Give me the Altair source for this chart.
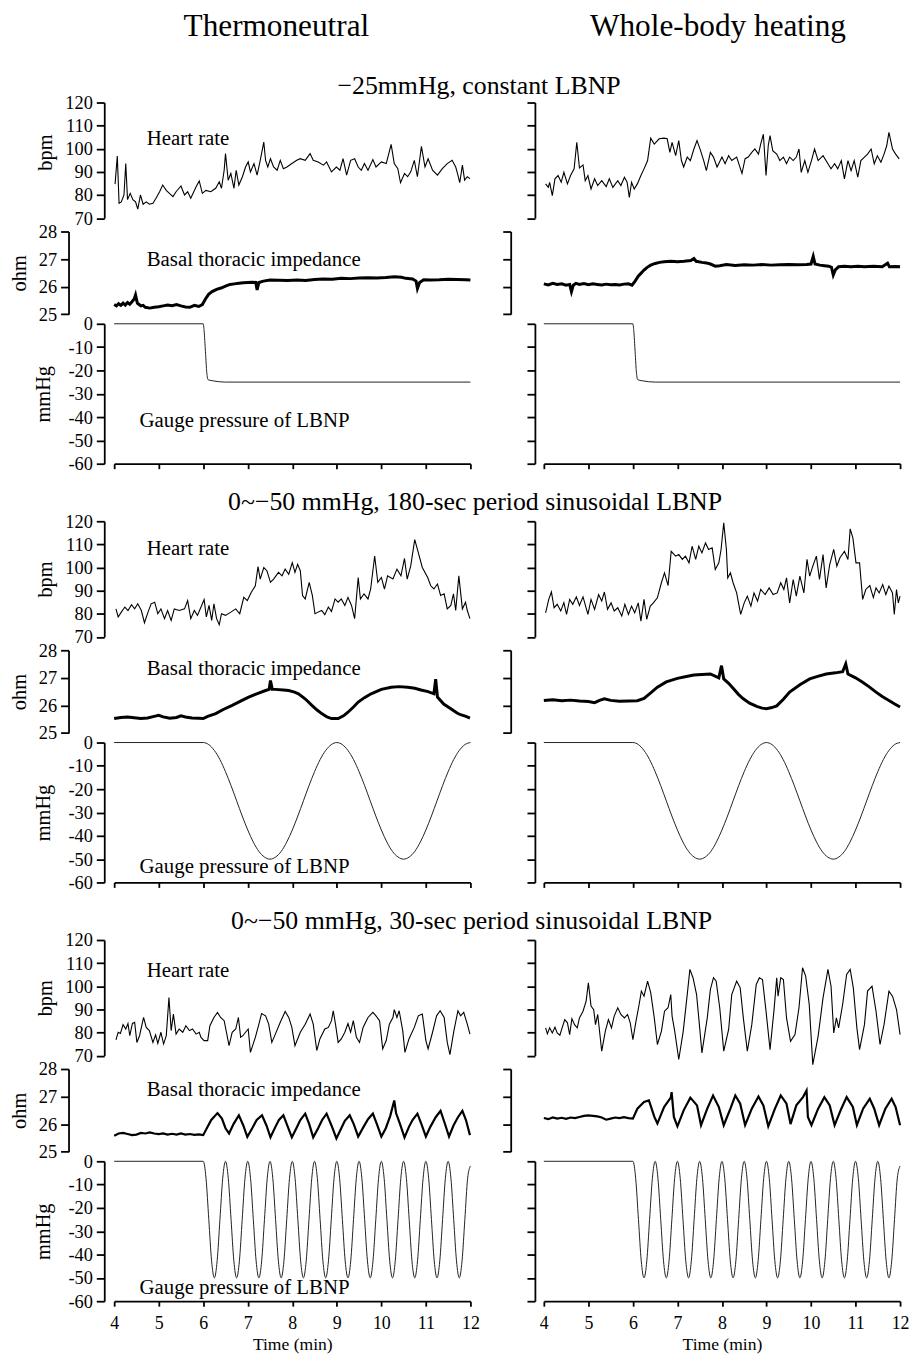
import altair as alt
import pandas as pd

FONT = "Liberation Serif"

COLUMN_TITLES = ["Thermoneutral", "Whole-body heating"]
SECTION_TITLES = ["\u221225mmHg, constant LBNP",
                  "0~\u221250 mmHg, 180-sec period sinusoidal LBNP",
                  "0~\u221250 mmHg, 30-sec period sinusoidal LBNP"]
X_TICKS = [4, 5, 6, 7, 8, 9, 10, 11, 12]
HR_TICKS = [70, 80, 90, 100, 110, 120]
OHM_TICKS = [25, 26, 27, 28]
P_TICKS = [-60, -50, -40, -30, -20, -10, 0]
PANEL_LABELS = ["Heart rate", "Basal thoracic impedance", "Gauge pressure of LBNP"]
HR_LABEL_AT = [(4.73, 104.2), (4.73, 107.9), (4.73, 106.6)]
OHM_LABEL_AT = [(4.73, 26.95), (4.73, 27.3), (4.73, 27.25)]
P_LABEL_AT = [(4.57, -41.9), (4.57, -53.2), (4.57, -54.3)]

# ---------------- heart rate (min, bpm) ----------------
HR_TN_CONST = [(4.02, 84.7), (4.07, 96.9), (4.11, 76.4), (4.16, 77.0), (4.22, 80.0), (4.26, 93.6), (4.30, 78.0),
               (4.36, 80.7), (4.42, 78.0), (4.48, 77.0), (4.53, 73.9), (4.59, 80.0), (4.65, 76.0), (4.72, 77.0),
               (4.79, 76.0), (4.87, 76.4), (4.94, 78.6), (5.02, 81.4), (5.09, 84.3), (5.17, 82.0), (5.24, 80.7),
               (5.32, 79.3), (5.39, 81.4), (5.50, 83.9), (5.58, 80.0), (5.65, 81.4), (5.72, 78.6), (5.84, 83.6),
               (5.91, 86.1), (5.98, 80.7), (6.06, 82.0), (6.17, 81.4), (6.28, 82.9), (6.36, 85.7), (6.41, 82.9),
               (6.47, 90.7), (6.50, 97.9), (6.56, 86.4), (6.62, 89.3), (6.69, 82.9), (6.74, 90.7), (6.80, 84.3),
               (6.88, 87.9), (6.95, 92.1), (7.01, 94.3), (7.06, 90.0), (7.14, 93.6), (7.21, 88.6), (7.28, 95.0),
               (7.36, 102.9), (7.40, 95.0), (7.45, 92.1), (7.51, 95.7), (7.58, 92.1), (7.66, 90.7), (7.73, 95.0),
               (7.80, 91.4), (7.88, 92.1), (7.99, 93.6), (8.10, 95.0), (8.18, 95.7), (8.29, 95.0), (8.40, 97.9),
               (8.47, 95.0), (8.58, 94.3), (8.70, 92.9), (8.77, 94.3), (8.88, 90.0), (8.99, 92.1), (9.07, 90.7),
               (9.14, 95.7), (9.22, 88.6), (9.31, 95.0), (9.40, 95.7), (9.48, 92.1), (9.55, 90.7), (9.62, 93.6),
               (9.70, 90.7), (9.81, 95.3), (9.88, 92.1), (10.00, 94.3), (10.11, 93.6), (10.22, 101.9), (10.29, 93.6),
               (10.37, 91.4), (10.43, 85.3), (10.52, 89.3), (10.59, 87.9), (10.66, 90.0), (10.74, 95.0), (10.81, 87.9),
               (10.90, 101.0), (10.98, 92.1), (11.05, 95.7), (11.15, 90.7), (11.26, 88.6), (11.37, 91.4), (11.48, 93.6),
               (11.59, 95.0), (11.67, 92.1), (11.72, 88.6), (11.76, 85.3), (11.82, 92.9), (11.87, 86.4), (11.93, 87.9),
               (11.99, 87.1)]
HR_HEAT_CONST = [(4.04, 84.8), (4.10, 83.3), (4.13, 85.5), (4.19, 79.7), (4.25, 87.0), (4.32, 88.4), (4.39, 85.5),
                 (4.45, 89.8), (4.53, 84.8), (4.60, 88.4), (4.68, 91.3), (4.74, 102.8), (4.80, 91.7), (4.88, 93.0),
                 (4.93, 86.2), (4.99, 88.4), (5.06, 82.6), (5.14, 87.0), (5.21, 84.1), (5.30, 86.2), (5.40, 83.6),
                 (5.47, 87.0), (5.55, 83.3), (5.66, 86.2), (5.73, 84.1), (5.81, 87.7), (5.87, 85.5), (5.92, 79.0),
                 (5.97, 85.5), (6.03, 82.6), (6.10, 84.8), (6.18, 88.4), (6.25, 91.3), (6.33, 94.9), (6.40, 104.6),
                 (6.48, 102.0), (6.59, 104.3), (6.70, 104.6), (6.77, 104.3), (6.83, 98.4), (6.88, 102.8), (6.96, 97.0),
                 (7.03, 103.5), (7.09, 94.9), (7.14, 92.1), (7.22, 96.4), (7.29, 94.9), (7.37, 99.9), (7.44, 103.5),
                 (7.52, 99.2), (7.59, 94.9), (7.65, 90.5), (7.74, 98.4), (7.81, 96.4), (7.89, 92.1), (8.00, 96.4),
                 (8.07, 93.5), (8.15, 97.0), (8.22, 94.9), (8.33, 96.4), (8.45, 89.3), (8.52, 95.7), (8.59, 96.4),
                 (8.67, 98.4), (8.74, 99.9), (8.82, 97.7), (8.87, 102.0), (8.93, 106.3), (8.99, 88.4), (9.04, 101.4),
                 (9.08, 105.7), (9.14, 99.2), (9.23, 97.7), (9.30, 94.9), (9.38, 96.4), (9.45, 93.5), (9.52, 96.4),
                 (9.60, 94.9), (9.67, 96.4), (9.73, 99.9), (9.78, 89.8), (9.86, 94.9), (9.93, 89.8), (10.01, 94.9),
                 (10.08, 99.9), (10.16, 94.9), (10.27, 97.0), (10.38, 93.5), (10.45, 91.3), (10.53, 93.5), (10.60, 91.3),
                 (10.68, 94.9), (10.75, 87.0), (10.83, 94.9), (10.90, 90.5), (10.97, 94.9), (11.05, 87.7), (11.12, 94.9),
                 (11.20, 96.4), (11.27, 97.7), (11.35, 99.9), (11.42, 93.5), (11.49, 97.0), (11.57, 94.2), (11.64, 97.7),
                 (11.70, 101.3), (11.75, 107.1), (11.83, 99.9), (11.90, 97.7), (11.98, 95.6)]
HR_TN_180 = [(4.04, 82.1), (4.09, 78.6), (4.16, 80.7), (4.24, 82.9), (4.31, 81.4), (4.39, 83.9), (4.46, 82.1),
             (4.53, 84.3), (4.61, 81.4), (4.68, 76.1), (4.76, 80.7), (4.83, 84.3), (4.91, 85.0), (4.98, 80.0),
             (5.05, 82.1), (5.13, 77.9), (5.20, 81.4), (5.28, 77.1), (5.35, 82.1), (5.46, 81.4), (5.58, 82.1),
             (5.65, 85.7), (5.72, 77.9), (5.80, 81.4), (5.87, 79.3), (5.95, 82.9), (6.02, 86.1), (6.07, 78.6),
             (6.13, 83.6), (6.19, 77.1), (6.24, 84.3), (6.30, 77.9), (6.36, 75.3), (6.41, 80.0), (6.50, 79.3),
             (6.62, 80.7), (6.73, 82.1), (6.82, 80.0), (6.91, 87.1), (6.99, 85.7), (7.08, 89.3), (7.17, 92.1),
             (7.23, 100.4), (7.28, 95.0), (7.36, 100.0), (7.43, 98.6), (7.51, 93.6), (7.58, 95.0), (7.69, 97.9),
             (7.77, 96.4), (7.84, 99.3), (7.92, 97.1), (8.00, 102.1), (8.06, 97.9), (8.12, 101.4), (8.18, 98.6),
             (8.23, 87.9), (8.29, 86.4), (8.38, 93.6), (8.45, 87.9), (8.51, 80.0), (8.58, 80.7), (8.66, 81.4),
             (8.73, 79.6), (8.81, 82.9), (8.88, 81.0), (8.96, 86.4), (9.03, 85.0), (9.10, 86.4), (9.18, 83.6),
             (9.25, 87.1), (9.33, 83.6), (9.40, 77.9), (9.48, 95.7), (9.53, 86.4), (9.61, 88.6), (9.70, 86.4),
             (9.76, 90.7), (9.85, 105.0), (9.92, 93.6), (10.00, 95.7), (10.07, 90.7), (10.14, 96.4), (10.26, 95.0),
             (10.35, 99.3), (10.44, 96.4), (10.52, 103.9), (10.58, 95.0), (10.66, 100.7), (10.75, 112.1),
             (10.83, 106.4), (10.92, 100.0), (11.04, 95.7), (11.11, 92.1), (11.18, 90.7), (11.26, 92.9),
             (11.33, 87.9), (11.41, 88.6), (11.48, 82.1), (11.56, 83.6), (11.62, 88.6), (11.67, 81.4), (11.74, 96.4),
             (11.82, 82.1), (11.89, 85.0), (11.93, 81.4), (11.99, 77.9)]
HR_HEAT_180 = [(4.04, 80.4), (4.11, 86.2), (4.17, 89.4), (4.23, 82.6), (4.30, 84.1), (4.38, 81.2), (4.45, 84.8),
               (4.51, 79.7), (4.58, 86.2), (4.65, 84.1), (4.73, 87.3), (4.80, 83.6), (4.88, 87.3), (4.99, 79.7),
               (5.06, 86.2), (5.14, 81.9), (5.23, 88.3), (5.30, 85.5), (5.36, 89.4), (5.43, 81.9), (5.51, 84.7),
               (5.58, 81.2), (5.66, 82.6), (5.75, 79.0), (5.82, 84.1), (5.90, 79.7), (5.97, 83.3), (6.04, 80.4),
               (6.12, 84.7), (6.18, 76.8), (6.25, 86.2), (6.31, 77.6), (6.39, 83.3), (6.46, 84.7), (6.55, 86.9),
               (6.64, 93.4), (6.71, 97.7), (6.79, 92.2), (6.86, 107.0), (6.96, 104.9), (7.03, 105.6), (7.11, 103.5),
               (7.18, 104.9), (7.26, 102.0), (7.33, 109.2), (7.41, 103.5), (7.48, 109.2), (7.55, 106.3), (7.63, 110.6),
               (7.70, 107.8), (7.78, 108.5), (7.85, 99.1), (7.93, 102.0), (7.98, 107.8), (8.04, 119.3), (8.10, 107.8),
               (8.13, 95.5), (8.19, 97.7), (8.25, 93.4), (8.33, 89.0), (8.42, 79.7), (8.50, 84.7), (8.57, 87.6),
               (8.65, 83.3), (8.72, 89.0), (8.80, 85.5), (8.87, 90.5), (8.97, 88.3), (9.06, 91.2), (9.15, 88.3),
               (9.24, 89.0), (9.32, 93.4), (9.39, 90.5), (9.45, 95.5), (9.52, 84.7), (9.60, 94.8), (9.67, 87.6),
               (9.75, 96.3), (9.84, 89.0), (9.91, 103.5), (9.97, 96.3), (10.04, 100.6), (10.12, 104.9), (10.19, 94.8),
               (10.27, 105.6), (10.34, 91.2), (10.42, 101.3), (10.51, 107.8), (10.58, 100.6), (10.65, 104.2),
               (10.75, 107.0), (10.83, 103.5), (10.88, 116.7), (10.94, 112.8), (11.01, 102.0), (11.09, 102.0),
               (11.16, 86.2), (11.23, 90.5), (11.32, 92.2), (11.40, 87.0), (11.46, 91.2), (11.53, 89.0), (11.61, 92.6),
               (11.68, 88.3), (11.75, 92.0), (11.83, 89.0), (11.87, 79.7), (11.92, 90.5), (11.96, 84.7), (12.00, 87.6)]
HR_TN_30 = [(4.04, 76.8), (4.09, 80.1), (4.14, 79.6), (4.20, 83.4), (4.26, 81.5), (4.31, 83.9), (4.35, 78.6),
            (4.41, 83.9), (4.46, 84.4), (4.51, 75.7), (4.57, 78.6), (4.66, 86.5), (4.72, 82.2), (4.79, 80.8),
            (4.87, 75.7), (4.93, 79.0), (4.98, 75.3), (5.05, 80.1), (5.11, 75.0), (5.17, 78.6), (5.23, 95.1),
            (5.28, 80.8), (5.33, 88.0), (5.39, 79.3), (5.46, 81.5), (5.54, 80.1), (5.61, 82.9), (5.69, 80.8),
            (5.76, 81.5), (5.84, 79.3), (5.91, 80.1), (5.95, 77.9), (6.02, 76.5), (6.10, 76.5), (6.15, 82.9),
            (6.24, 86.5), (6.32, 88.7), (6.39, 86.5), (6.47, 85.1), (6.58, 74.3), (6.65, 80.1), (6.73, 81.5),
            (6.79, 86.5), (6.84, 77.9), (6.89, 78.6), (6.95, 80.1), (7.01, 81.5), (7.06, 71.4), (7.17, 77.9),
            (7.25, 83.6), (7.31, 88.2), (7.40, 87.2), (7.47, 83.6), (7.54, 75.7), (7.62, 79.3), (7.73, 84.4),
            (7.84, 89.1), (7.92, 86.5), (7.99, 82.2), (8.06, 74.3), (8.18, 80.1), (8.29, 83.6), (8.40, 88.0),
            (8.47, 83.6), (8.55, 72.2), (8.62, 77.2), (8.73, 81.5), (8.81, 82.2), (8.88, 85.1), (8.92, 89.4),
            (8.97, 83.6), (9.03, 75.7), (9.10, 77.2), (9.18, 80.1), (9.25, 83.9), (9.31, 80.1), (9.37, 85.1),
            (9.44, 77.9), (9.51, 75.7), (9.59, 82.2), (9.70, 86.5), (9.81, 88.7), (9.88, 87.2), (9.96, 85.1),
            (10.03, 72.9), (10.11, 76.5), (10.18, 83.6), (10.26, 86.5), (10.29, 89.9), (10.35, 86.5), (10.40, 89.4),
            (10.48, 80.8), (10.53, 71.4), (10.62, 77.2), (10.74, 82.2), (10.83, 87.2), (10.92, 88.0), (11.00, 76.5),
            (11.05, 72.9), (11.15, 80.1), (11.24, 87.2), (11.32, 89.4), (11.41, 86.5), (11.48, 75.7), (11.54, 70.4),
            (11.63, 80.8), (11.72, 89.4), (11.78, 87.2), (11.85, 88.7), (11.93, 83.6), (11.99, 79.3)]
HR_HEAT_30 = [(4.04, 82.0), (4.08, 79.4), (4.13, 82.0), (4.19, 79.8), (4.25, 82.3), (4.30, 79.8), (4.36, 78.8),
              (4.41, 82.0), (4.47, 85.6), (4.53, 84.2), (4.58, 79.1), (4.63, 86.0), (4.69, 83.4), (4.75, 82.0),
              (4.80, 86.3), (4.88, 89.2), (4.95, 93.6), (5.00, 101.5), (5.06, 91.4), (5.12, 89.9), (5.16, 83.4),
              (5.21, 87.8), (5.30, 71.9), (5.38, 80.5), (5.45, 85.6), (5.52, 82.0), (5.58, 87.1), (5.66, 90.7),
              (5.73, 87.8), (5.81, 86.3), (5.88, 87.8), (5.94, 84.2), (6.00, 76.9), (6.07, 84.9), (6.14, 92.1),
              (6.19, 97.9), (6.25, 95.7), (6.33, 102.2), (6.40, 97.2), (6.48, 86.3), (6.55, 74.8), (6.64, 80.5),
              (6.71, 89.2), (6.79, 90.7), (6.85, 96.4), (6.88, 87.1), (6.94, 80.5), (7.03, 68.3), (7.13, 80.5),
              (7.22, 96.4), (7.28, 107.3), (7.35, 103.7), (7.43, 96.4), (7.50, 82.0), (7.55, 71.2), (7.67, 86.3),
              (7.74, 98.6), (7.81, 103.7), (7.87, 102.2), (7.95, 90.7), (8.04, 71.9), (8.15, 81.3), (8.22, 96.4),
              (8.33, 102.2), (8.41, 99.3), (8.48, 86.3), (8.57, 71.9), (8.67, 83.4), (8.77, 100.8), (8.84, 103.7),
              (8.91, 102.9), (8.99, 89.2), (9.08, 72.6), (9.17, 89.9), (9.23, 103.7), (9.26, 95.7), (9.32, 103.7),
              (9.38, 102.9), (9.45, 86.3), (9.54, 76.2), (9.64, 79.1), (9.73, 90.7), (9.81, 108.0), (9.88, 104.4),
              (9.96, 92.1), (10.04, 66.1), (10.16, 78.4), (10.27, 95.0), (10.38, 107.3), (10.45, 100.0), (10.51, 79.8),
              (10.57, 86.3), (10.62, 82.0), (10.71, 92.1), (10.80, 105.1), (10.88, 107.3), (10.95, 99.3), (11.03, 82.0),
              (11.09, 72.6), (11.20, 83.4), (11.27, 97.9), (11.37, 100.0), (11.46, 89.2), (11.55, 74.8), (11.64, 83.4),
              (11.75, 97.9), (11.83, 95.7), (11.92, 89.9), (12.00, 79.1)]

# ---------------- basal thoracic impedance (min, ohm) ----------------
OHM_TN_CONST = [(4.00, 25.35), (4.05, 25.30), (4.10, 25.38), (4.15, 25.32), (4.20, 25.40), (4.25, 25.33), (4.30, 25.42),
                (4.35, 25.36), (4.40, 25.45), (4.45, 25.55), (4.48, 25.70), (4.52, 25.40), (4.56, 25.35), (4.60, 25.30),
                (4.65, 25.32), (4.70, 25.25), (4.80, 25.22), (4.90, 25.25), (5.00, 25.27), (5.10, 25.30), (5.20, 25.33),
                (5.30, 25.31), (5.40, 25.35), (5.50, 25.30), (5.60, 25.26), (5.70, 25.25), (5.80, 25.32), (5.90, 25.28),
                (5.98, 25.35), (6.05, 25.55), (6.12, 25.72), (6.20, 25.82), (6.30, 25.90), (6.40, 25.95), (6.50, 26.02),
                (6.60, 26.08), (6.70, 26.10), (6.80, 26.12), (6.90, 26.14), (7.00, 26.15), (7.10, 26.16), (7.18, 26.15),
                (7.21, 25.88), (7.25, 26.15), (7.35, 26.20), (7.50, 26.24), (7.70, 26.23), (7.90, 26.22), (8.10, 26.24),
                (8.30, 26.22), (8.50, 26.26), (8.70, 26.28), (8.90, 26.27), (9.10, 26.30), (9.30, 26.29), (9.50, 26.31),
                (9.70, 26.32), (9.90, 26.31), (10.10, 26.33), (10.30, 26.36), (10.45, 26.34), (10.55, 26.30),
                (10.70, 26.28), (10.78, 26.20), (10.81, 25.93), (10.86, 26.15), (10.95, 26.25), (11.10, 26.24),
                (11.30, 26.25), (11.50, 26.27), (11.70, 26.26), (11.90, 26.25), (12.00, 26.24)]
OHM_HEAT_CONST = [(4.00, 26.10), (4.10, 26.06), (4.20, 26.12), (4.30, 26.08), (4.40, 26.10), (4.50, 26.05), (4.58, 26.08),
                  (4.62, 25.82), (4.66, 26.05), (4.72, 26.12), (4.80, 26.08), (4.90, 26.11), (5.00, 26.07), (5.10, 26.10),
                  (5.20, 26.08), (5.30, 26.06), (5.40, 26.09), (5.50, 26.07), (5.60, 26.08), (5.70, 26.06), (5.80, 26.09),
                  (5.90, 26.10), (5.98, 26.05), (6.05, 26.20), (6.12, 26.38), (6.18, 26.48), (6.25, 26.60), (6.32, 26.70),
                  (6.40, 26.78), (6.50, 26.84), (6.60, 26.88), (6.70, 26.90), (6.85, 26.92), (7.00, 26.90), (7.15, 26.92),
                  (7.30, 26.95), (7.37, 27.02), (7.42, 26.92), (7.55, 26.88), (7.65, 26.86), (7.74, 26.82), (7.85, 26.74),
                  (7.95, 26.76), (8.10, 26.80), (8.30, 26.77), (8.50, 26.79), (8.70, 26.78), (8.90, 26.80), (9.10, 26.78),
                  (9.30, 26.79), (9.50, 26.80), (9.70, 26.79), (9.90, 26.80), (10.00, 26.82), (10.05, 27.10),
                  (10.09, 26.82), (10.20, 26.78), (10.30, 26.76), (10.40, 26.74), (10.46, 26.70), (10.50, 26.42),
                  (10.55, 26.62), (10.62, 26.72), (10.75, 26.74), (10.90, 26.72), (11.05, 26.74), (11.20, 26.72),
                  (11.40, 26.74), (11.60, 26.72), (11.72, 26.85), (11.76, 26.72), (11.90, 26.73), (12.00, 26.72)]
OHM_TN_180 = [(4.00, 25.52), (4.15, 25.56), (4.30, 25.58), (4.45, 25.55), (4.60, 25.52), (4.75, 25.54), (4.90, 25.60),
              (5.00, 25.64), (5.10, 25.58), (5.25, 25.53), (5.40, 25.56), (5.50, 25.62), (5.60, 25.58), (5.75, 25.54),
              (5.90, 25.53), (6.00, 25.52), (6.10, 25.60), (6.28, 25.70), (6.45, 25.85), (6.65, 26.00), (6.85, 26.16),
              (7.02, 26.30), (7.20, 26.42), (7.40, 26.54), (7.48, 26.58), (7.51, 26.90), (7.55, 26.58), (7.62, 26.58),
              (7.80, 26.56), (7.92, 26.54), (8.05, 26.48), (8.14, 26.42), (8.30, 26.22), (8.44, 26.00), (8.55, 25.84),
              (8.66, 25.70), (8.78, 25.58), (8.88, 25.52), (9.03, 25.52), (9.15, 25.62), (9.25, 25.75), (9.38, 25.95),
              (9.48, 26.12), (9.62, 26.28), (9.77, 26.42), (10.00, 26.58), (10.22, 26.66), (10.40, 26.68),
              (10.59, 26.66), (10.75, 26.62), (10.89, 26.56), (11.05, 26.50), (11.18, 26.42), (11.22, 26.95),
              (11.26, 26.30), (11.40, 26.05), (11.56, 25.88), (11.70, 25.72), (11.78, 25.66), (11.90, 25.60),
              (11.99, 25.54)]
OHM_HEAT_180 = [(4.00, 26.18), (4.20, 26.20), (4.40, 26.17), (4.60, 26.19), (4.80, 26.16), (5.00, 26.14), (5.14, 26.10),
                (5.25, 26.18), (5.36, 26.24), (5.50, 26.18), (5.70, 26.15), (5.90, 26.16), (6.10, 26.17), (6.25, 26.25),
                (6.40, 26.45), (6.55, 26.66), (6.75, 26.85), (7.00, 26.98), (7.20, 27.05), (7.37, 27.10), (7.55, 27.12),
                (7.74, 27.14), (7.93, 27.00), (7.99, 27.44), (8.04, 26.96), (8.15, 26.80), (8.26, 26.60), (8.37, 26.40),
                (8.48, 26.24), (8.62, 26.08), (8.78, 25.96), (8.90, 25.90), (9.00, 25.88), (9.12, 25.92), (9.23, 25.98),
                (9.38, 26.22), (9.52, 26.48), (9.75, 26.75), (9.97, 26.96), (10.15, 27.05), (10.34, 27.14),
                (10.55, 27.18), (10.71, 27.22), (10.78, 27.50), (10.83, 27.14), (11.00, 27.00), (11.16, 26.84),
                (11.30, 26.68), (11.46, 26.48), (11.60, 26.32), (11.75, 26.18), (11.88, 26.05), (12.00, 25.94)]
OHM_TN_30 = [(4.00, 25.58), (4.10, 25.66), (4.20, 25.68), (4.30, 25.64), (4.40, 25.60), (4.50, 25.62), (4.60, 25.68),
             (4.70, 25.66), (4.80, 25.70), (4.90, 25.66), (5.00, 25.64), (5.10, 25.66), (5.20, 25.62), (5.30, 25.65),
             (5.40, 25.62), (5.50, 25.66), (5.60, 25.62), (5.70, 25.64), (5.80, 25.61), (5.90, 25.63), (6.00, 25.60),
             (6.08, 25.85), (6.18, 26.15), (6.32, 26.40), (6.42, 26.20), (6.50, 25.85), (6.58, 25.66), (6.68, 26.00),
             (6.80, 26.32), (6.90, 25.95), (6.99, 25.54), (7.10, 25.85), (7.20, 26.15), (7.32, 26.32), (7.42, 25.95),
             (7.51, 25.52), (7.62, 25.90), (7.70, 26.15), (7.80, 26.32), (7.90, 25.90), (7.99, 25.52), (8.10, 25.88),
             (8.18, 26.15), (8.29, 26.38), (8.38, 26.00), (8.47, 25.52), (8.58, 25.85), (8.67, 26.15), (8.77, 26.38),
             (8.88, 25.95), (8.99, 25.48), (9.10, 25.85), (9.18, 26.12), (9.29, 26.32), (9.38, 26.00), (9.48, 25.55),
             (9.60, 25.90), (9.70, 26.18), (9.81, 26.38), (9.90, 26.00), (10.00, 25.55), (10.10, 25.85),
             (10.20, 26.30), (10.29, 26.86), (10.33, 26.40), (10.42, 26.00), (10.52, 25.52), (10.62, 25.90),
             (10.70, 26.15), (10.81, 26.38), (10.90, 26.00), (11.00, 25.55), (11.10, 25.90), (11.22, 26.25),
             (11.33, 26.48), (11.42, 26.05), (11.52, 25.55), (11.62, 25.95), (11.72, 26.25), (11.82, 26.48),
             (11.90, 26.15), (11.99, 25.60)]
OHM_HEAT_30 = [(4.00, 26.22), (4.10, 26.18), (4.20, 26.24), (4.30, 26.20), (4.40, 26.23), (4.50, 26.19), (4.60, 26.24),
               (4.70, 26.22), (4.80, 26.26), (4.90, 26.30), (5.00, 26.32), (5.10, 26.30), (5.20, 26.28), (5.30, 26.24),
               (5.40, 26.16), (5.50, 26.20), (5.60, 26.24), (5.70, 26.22), (5.80, 26.25), (5.90, 26.22), (6.00, 26.20),
               (6.10, 26.56), (6.25, 26.80), (6.36, 26.86), (6.48, 26.27), (6.55, 26.02), (6.70, 26.62), (6.85, 26.96),
               (6.87, 27.16), (6.92, 26.26), (7.00, 25.92), (7.14, 26.50), (7.29, 26.96), (7.44, 26.68), (7.53, 25.96),
               (7.67, 26.56), (7.80, 27.04), (7.93, 26.62), (8.04, 25.96), (8.19, 26.56), (8.30, 27.04), (8.41, 26.74),
               (8.52, 25.96), (8.67, 26.56), (8.82, 27.00), (8.93, 26.68), (9.04, 25.92), (9.19, 26.56), (9.32, 27.04),
               (9.45, 26.74), (9.54, 26.00), (9.67, 26.68), (9.82, 26.98), (9.90, 27.22), (9.93, 26.26), (10.01, 25.96),
               (10.16, 26.56), (10.30, 26.98), (10.42, 26.68), (10.53, 25.96), (10.68, 26.56), (10.80, 26.98),
               (10.94, 26.62), (11.03, 25.96), (11.17, 26.56), (11.32, 26.92), (11.42, 26.56), (11.53, 25.96),
               (11.67, 26.56), (11.81, 26.92), (11.90, 26.62), (12.00, 25.96)]

# ---------------- LBNP gauge pressure (min, mmHg) ----------------
P_CONST = [(4.0, 0), (6.0, 0), (6.02, -3), (6.05, -12), (6.08, -21), (6.11, -24), (6.2, -24.4), (6.5, -25), (12.0, -25)]
P180_T = [4.0, 6.0, 6.125, 6.25, 6.375, 6.5, 6.625, 6.75, 6.875, 7.0, 7.125, 7.25, 7.375, 7.5, 7.625, 7.75, 7.875,
          8.0, 8.125, 8.25, 8.375, 8.5, 8.625, 8.75, 8.875, 9.0, 9.125, 9.25, 9.375, 9.5, 9.625, 9.75, 9.875,
          10.0, 10.125, 10.25, 10.375, 10.5, 10.625, 10.75, 10.875, 11.0, 11.125, 11.25, 11.375, 11.5, 11.625,
          11.75, 11.875, 12.0]
P180_V = [0, 0, -0.9, -3.4, -7.3, -12.5, -18.5, -25, -31.5, -37.5, -42.7, -46.7, -49.1, -50, -49.1, -46.7, -42.7,
          -37.5, -31.5, -25, -18.5, -12.5, -7.3, -3.4, -0.9, 0, -0.9, -3.4, -7.3, -12.5, -18.5, -25, -31.5,
          -37.5, -42.7, -46.7, -49.1, -50, -49.1, -46.7, -42.7, -37.5, -31.5, -25, -18.5, -12.5, -7.3,
          -3.4, -0.9, 0]
P30_T = [4.0,
         6.0, 6.0625, 6.125, 6.1875, 6.25, 6.3125, 6.375, 6.4375,
         6.5, 6.5625, 6.625, 6.6875, 6.75, 6.8125, 6.875, 6.9375,
         7.0, 7.0625, 7.125, 7.1875, 7.25, 7.3125, 7.375, 7.4375,
         7.5, 7.5625, 7.625, 7.6875, 7.75, 7.8125, 7.875, 7.9375,
         8.0, 8.0625, 8.125, 8.1875, 8.25, 8.3125, 8.375, 8.4375,
         8.5, 8.5625, 8.625, 8.6875, 8.75, 8.8125, 8.875, 8.9375,
         9.0, 9.0625, 9.125, 9.1875, 9.25, 9.3125, 9.375, 9.4375,
         9.5, 9.5625, 9.625, 9.6875, 9.75, 9.8125, 9.875, 9.9375,
         10.0, 10.0625, 10.125, 10.1875, 10.25, 10.3125, 10.375, 10.4375,
         10.5, 10.5625, 10.625, 10.6875, 10.75, 10.8125, 10.875, 10.9375,
         11.0, 11.0625, 11.125, 11.1875, 11.25, 11.3125, 11.375, 11.4375,
         11.5, 11.5625, 11.625, 11.6875, 11.75, 11.8125, 11.875, 11.9375,
         12.0]
P30_V = [0,
         0, -7.3, -25, -42.7, -50, -42.7, -25, -7.3,
         0, -7.3, -25, -42.7, -50, -42.7, -25, -7.3,
         0, -7.3, -25, -42.7, -50, -42.7, -25, -7.3,
         0, -7.3, -25, -42.7, -50, -42.7, -25, -7.3,
         0, -7.3, -25, -42.7, -50, -42.7, -25, -7.3,
         0, -7.3, -25, -42.7, -50, -42.7, -25, -7.3,
         0, -7.3, -25, -42.7, -50, -42.7, -25, -7.3,
         0, -7.3, -25, -42.7, -50, -42.7, -25, -7.3,
         0, -7.3, -25, -42.7, -50, -42.7, -25, -7.3,
         0, -7.3, -25, -42.7, -50, -42.7, -25, -7.3,
         0, -7.3, -25, -42.7, -50, -42.7, -25, -7.3,
         0, -7.3, -25, -42.7, -50, -42.7, -25, -7.3,
         -2]
P_180 = list(zip(P180_T, P180_V))
P_30 = list(zip(P30_T, P30_V))

SECTIONS = [
    {"hr": (HR_TN_CONST, HR_HEAT_CONST), "ohm": (OHM_TN_CONST, OHM_HEAT_CONST), "p": (P_CONST, P_CONST)},
    {"hr": (HR_TN_180, HR_HEAT_180), "ohm": (OHM_TN_180, OHM_HEAT_180), "p": (P_180, P_180)},
    {"hr": (HR_TN_30, HR_HEAT_30), "ohm": (OHM_TN_30, OHM_HEAT_30), "p": (P_30, P_30)},
]

# ---------------- layout ----------------
W = 359
COL_GAP = 74
HEAD_H = 35.7
HR_H = 116.5
GAP1 = 13
OHM_H = 83.3
GAP2 = 9
P_H = 141
SEC_GAP = 57.5
Y_OFF = {"L": 10, "R": 9}
OHM_OFF = {"L": 46, "R": 33.4}
TITLE_PAD = {"hr": 9, "ohm": 9.3, "p": 15}
HR_TITLE_Y = [50, None, None]
COL_TITLE_DX = [-16, -4]
SEC_TITLE_DX = [367.7, 363.7, 360.2]
SEC_TITLE_OFF = [8, 11, 12]
SEC_TITLE_DY = [34, 35, 36]
OHM_STROKE = [3.0, 3.0, 2.2]

EMPTY = pd.DataFrame({"t": pd.Series([], dtype=float), "v": pd.Series([], dtype=float)})


def x_enc(mode):
    sc = alt.Scale(domain=[4, 12], nice=False, zero=False)
    if mode is None:
        return alt.X("t:Q", scale=sc, axis=None)
    return alt.X("t:Q", scale=sc, axis=alt.Axis(
        values=X_TICKS, tickSize=5, labels=(mode == "full"), labelPadding=9, labelFontSize=18,
        labelFlush=False, labelExpr="'' + datum.value",
        title=("Time (min)" if mode == "full" else ""), titlePadding=3, titleFontSize=17.7))


def y_enc(kind, side, title_y=None):
    dom = {"hr": [70, 120], "ohm": [25, 28], "p": [-60, 0]}[kind]
    vals = {"hr": HR_TICKS, "ohm": OHM_TICKS, "p": P_TICKS}[kind]
    ttl = {"hr": "bpm", "ohm": "ohm", "p": "mmHg"}[kind]
    off = (OHM_OFF if kind == "ohm" else Y_OFF)[side]
    left = side == "L"
    kw = dict(values=vals, tickSize=8, labels=left, labelPadding=4, labelExpr="'' + datum.value",
              title=(ttl if left else ""), titlePadding=TITLE_PAD[kind], offset=off)
    if title_y is not None:
        kw["titleY"] = title_y
    return alt.Y("v:Q", scale=alt.Scale(domain=dom, nice=False, zero=False), axis=alt.Axis(**kw))


def style(kind, sec_i):
    if kind == "hr":
        return dict(strokeWidth=1.1, color="black")
    if kind == "ohm":
        return dict(strokeWidth=OHM_STROKE[sec_i], color="black")
    return dict(strokeWidth=1.0, color="#222222", interpolate="monotone")


def panel(pairs, kind, side, sec_i, xmode, height, label=None, title=None, title_y=None):
    X = x_enc(xmode)
    Y = y_enc(kind, side, title_y)
    df = pd.DataFrame(pairs, columns=["t", "v"])
    layers = [alt.Chart(df).mark_line(**style(kind, sec_i)).encode(x=X, y=Y)]
    if label is not None:
        t, v, txt = label
        ldf = pd.DataFrame({"t": [t], "v": [v], "label": [txt]})
        layers.append(alt.Chart(ldf).mark_text(align="left", baseline="middle", font=FONT, fontSize=21,
                                               color="black").encode(x=X, y=Y, text="label:N"))
    ch = alt.layer(*layers).properties(width=W, height=height)
    if title is not None:
        ch = ch.properties(title=title)
    return ch


def spacer(h, title=None):
    ch = alt.Chart(EMPTY).mark_point(opacity=0).encode(
        x=alt.X("t:Q", axis=None), y=alt.Y("v:Q", axis=None)).properties(width=W, height=h)
    if title is not None:
        ch = ch.properties(title=title)
    return ch


charts = []
for j in range(2):
    charts.append(spacer(HEAD_H, alt.TitleParams(
        text=COLUMN_TITLES[j], anchor="middle", frame="group", dx=COL_TITLE_DX[j], offset=0,
        baseline="alphabetic", fontSize=31.5, font=FONT, fontWeight="normal", color="black")))

for i, sec in enumerate(SECTIONS):
    last = i == len(SECTIONS) - 1
    xmode = "full" if last else "ticks"
    stitle = alt.TitleParams(text=SECTION_TITLES[i], anchor="start", align="center", frame="group",
                             dx=SEC_TITLE_DX[i], dy=SEC_TITLE_DY[i], offset=SEC_TITLE_OFF[i],
                             baseline="alphabetic", fontSize=26, font=FONT, fontWeight="normal", color="black")
    for j, side in enumerate("LR"):
        lab = (HR_LABEL_AT[i][0], HR_LABEL_AT[i][1], PANEL_LABELS[0]) if side == "L" else None
        charts.append(panel(sec["hr"][j], "hr", side, i, None, HR_H, lab,
                            stitle if side == "L" else None, HR_TITLE_Y[i] if side == "L" else None))
    charts += [spacer(GAP1), spacer(GAP1)]
    for j, side in enumerate("LR"):
        lab = (OHM_LABEL_AT[i][0], OHM_LABEL_AT[i][1], PANEL_LABELS[1]) if side == "L" else None
        charts.append(panel(sec["ohm"][j], "ohm", side, i, None, OHM_H, lab))
    charts += [spacer(GAP2), spacer(GAP2)]
    for j, side in enumerate("LR"):
        lab = (P_LABEL_AT[i][0], P_LABEL_AT[i][1], PANEL_LABELS[2]) if side == "L" else None
        charts.append(panel(sec["p"][j], "p", side, i, xmode, P_H, lab))
    if not last:
        charts += [spacer(SEC_GAP), spacer(SEC_GAP)]

chart = alt.concat(
    *charts, columns=2, spacing={"row": 0, "column": COL_GAP}, bounds="flush", align="each"
).properties(
    padding={"left": 1, "top": -3, "right": 0, "bottom": 0}
).configure_view(stroke=None).configure_axis(
    domainColor="black", domainWidth=1.8, tickColor="black", tickWidth=1.8, grid=False,
    labelColor="black", labelFont=FONT, labelFontSize=18.5,
    titleColor="black", titleFont=FONT, titleFontSize=20.5, titleFontWeight="normal"
)

chart.save("out.html", embed_options={"renderer": "svg", "actions": False})
